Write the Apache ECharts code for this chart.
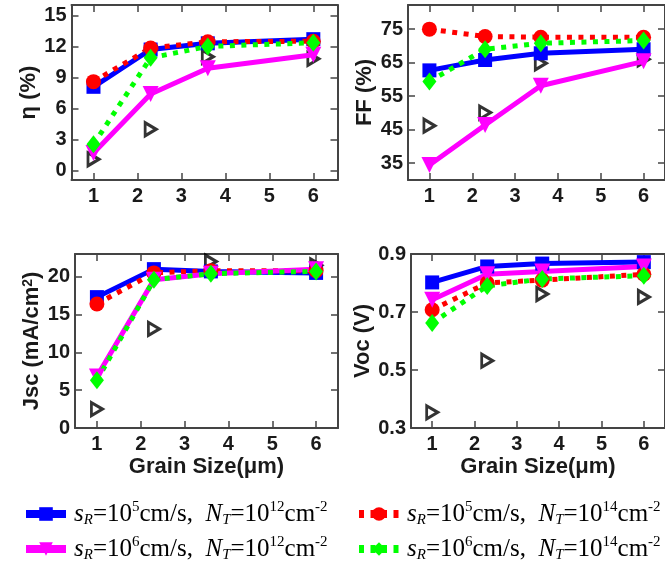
<!DOCTYPE html>
<html><head><meta charset="utf-8">
<script src="https://cdn.jsdelivr.net/npm/echarts@6/dist/echarts.min.js"></script>
<style>html,body{margin:0;padding:0;background:#fff}#c{width:665px;height:571px}</style>
</head><body><div id="c"></div>
<script>
// ---- data ----
const grainSize = [1, 2.3, 3.6, 6];
const xTicks = [1, 2, 3, 4, 5, 6];
const seriesNames = ['sR=1e5,NT=1e12', 'sR=1e5,NT=1e14', 'sR=1e6,NT=1e12', 'sR=1e6,NT=1e14'];
const srExp = ['5', '5', '6', '6'];
const ntExp = ['12', '14', '12', '14'];

const etaTicks = [0, 3, 6, 9, 12, 15];
const etaA = [8.1, 11.7, 12.3, 12.7];
const etaB = [8.6, 11.85, 12.45, 12.5];
const etaC = [1.7, 7.4, 9.9, 11.2];
const etaD = [2.55, 10.9, 12.0, 12.35];
const etaRef = [1.1, 4.0, 11.0, 10.8];

const ffTicks = [35, 45, 55, 65, 75];
const ffA = [62.7, 65.8, 67.8, 69.0];
const ffB = [75.0, 72.8, 72.6, 72.6];
const ffC = [34.5, 46.4, 58.1, 65.4];
const ffD = [59.4, 69.0, 70.8, 71.6];
const ffRef = [46.2, 50.1, 64.8, 66.0];

const jscTicks = [0, 5, 10, 15, 20];
const jscA = [17.3, 21.0, 20.7, 20.5];
const jscB = [16.4, 20.5, 20.8, 20.8];
const jscC = [6.8, 19.6, 20.4, 21.0];
const jscD = [6.3, 19.6, 20.4, 20.7];
const jscRef = [2.5, 13.1, 22.0, 21.5];

const vocTicks = [0.3, 0.5, 0.7, 0.9];
const vocA = [0.802, 0.857, 0.867, 0.872];
const vocB = [0.708, 0.80, 0.81, 0.83];
const vocC = [0.742, 0.83, 0.84, 0.857];
const vocD = [0.662, 0.79, 0.814, 0.825];
const vocRef = [0.354, 0.532, 0.762, 0.752];

// ---- layout / styles ----
const panels = [
  {grid:{left:71.5, top:5, width:266, height:175}, xMin:0.5, xMax:6.55, yMin:-0.9, yMax:16, yTicks:etaTicks,
   yName:'η (%)', xName:'', data:[etaA, etaB, etaC, etaD, etaRef]},
  {grid:{left:408, top:5, width:264, height:175}, xMin:0.5, xMax:6.5, yMin:30, yMax:82.2, yTicks:ffTicks,
   yName:'FF (%)', xName:'', data:[ffA, ffB, ffC, ffD, ffRef]},
  {grid:{left:75, top:254, width:263, height:174}, xMin:0.5, xMax:6.5, yMin:0, yMax:23, yTicks:jscTicks,
   yName:'Jsc (mA/cm{sup|2})', xName:'Grain Size(μm)', data:[jscA, jscB, jscC, jscD, jscRef]},
  {grid:{left:411, top:254, width:262, height:174}, xMin:0.5, xMax:6.5, yMin:0.3, yMax:0.9, yTicks:vocTicks,
   yName:'Voc (V)', xName:'Grain Size(μm)', data:[vocA, vocB, vocC, vocD, vocRef]}
];

const frameColor = '#444';
const sans = 'Liberation Sans';
const labelStyle = {fontSize:20, fontWeight:'bold', fontFamily:sans, color:'#1a1a1a'};
const nameStyle = {fontSize:22, fontWeight:'bold', fontFamily:sans, color:'#1a1a1a',
  rich:{sup:{fontSize:14, fontWeight:'bold', fontFamily:sans, color:'#1a1a1a', verticalAlign:'top', lineHeight:14}}};

const styles = [
  {color:'#0000ff', symbol:'rect', size:14, line:'solid'},
  {color:'#ff0000', symbol:'circle', size:15, line:[5, 6.5]},
  {color:'#ff00ff', symbol:'triangle', size:16, rotate:180, line:'solid'},
  {color:'#00ff00', symbol:'diamond', size:[14, 18], line:[5, 6.5]}
];

const xAxis = [], yAxis = [], grid = [], series = [];
panels.forEach((p, gi) => {
  grid.push(Object.assign({containLabel:false}, p.grid));
  const base = (pos) => ({
    type:'value', gridIndex:gi, position:pos,
    axisLine:{show:true, onZero:false, lineStyle:{color:frameColor, width:2}},
    splitLine:{show:false},
  });
  const bx = base('bottom');
  Object.assign(bx, {min:p.xMin, max:p.xMax,
    axisTick:{show:true, inside:true, length:7, customValues:xTicks, lineStyle:{color:frameColor, width:1.5}},
    axisLabel:Object.assign({show:true, margin:6, customValues:xTicks}, labelStyle),
    name:p.xName, nameLocation:'middle', nameGap:28, nameTextStyle:nameStyle});
  const tx = base('top');
  Object.assign(tx, {min:p.xMin, max:p.xMax,
    axisTick:{show:true, inside:true, length:7, customValues:xTicks, lineStyle:{color:frameColor, width:1.5}},
    axisLabel:{show:false}});
  xAxis.push(bx, tx);
  const ly = base('left');
  Object.assign(ly, {min:p.yMin, max:p.yMax,
    axisTick:{show:true, inside:true, length:7, customValues:p.yTicks, lineStyle:{color:frameColor, width:1.5}},
    axisLabel:Object.assign({show:true, margin:5, customValues:p.yTicks}, labelStyle),
    name:p.yName, nameLocation:'middle', nameGap:32, nameTextStyle:nameStyle});
  const ry = base('right');
  Object.assign(ry, {min:p.yMin, max:p.yMax,
    axisTick:{show:true, inside:true, length:7, customValues:p.yTicks, lineStyle:{color:frameColor, width:1.5}},
    axisLabel:{show:false}});
  yAxis.push(ly, ry);

  styles.forEach((s, si) => {
    series.push({
      type:'line', name:seriesNames[si], xAxisIndex:gi*2, yAxisIndex:gi*2,
      data:grainSize.map((x, k) => [x, p.data[si][k]]),
      symbol:s.symbol, symbolSize:s.size, symbolRotate:s.rotate || 0,
      lineStyle:{color:s.color, width:5, type:s.line},
      itemStyle:{color:s.color},
      showSymbol:true, animation:false, clip:false
    });
  });
  series.push({
    type:'scatter', name:'ref', xAxisIndex:gi*2, yAxisIndex:gi*2,
    data:grainSize.map((x, k) => [x, p.data[4][k]]),
    symbol:'path://M0,0L10,6L0,12Z', symbolSize:[11, 13], symbolKeepAspect:false,
    itemStyle:{color:'rgba(0,0,0,0)', borderColor:'#000', borderWidth:3},
    animation:false
  });
});

const serif = 'Liberation Serif';
const FS = 25;
const rich = {
  i:{fontFamily:serif, fontStyle:'italic', fontSize:FS, lineHeight:28, color:'#000'},
  i0:{fontFamily:serif, fontStyle:'italic', fontSize:FS, lineHeight:28, color:'#000', padding:[0,0,0,3]},
  n:{fontFamily:serif, fontSize:FS, lineHeight:28, color:'#000'},
  sub:{fontFamily:serif, fontStyle:'italic', fontSize:15, lineHeight:14, verticalAlign:'bottom', color:'#000'},
  sup:{fontFamily:serif, fontSize:15, lineHeight:18, verticalAlign:'top', color:'#000'}
};
const fmt = name => {
  const k = seriesNames.indexOf(name);
  return '{i0|s}{sub|R}{n|=10}{sup|' + srExp[k] + '}{n|cm/s,  }{i|N}{sub|T}{n|=10}{sup|' + ntExp[k] + '}{n|cm}{sup|-2}';
};
const legendItem = k => ({name:seriesNames[k], lineStyle:{width:8}});
const legendBase = {orient:'vertical', itemGap:7, itemWidth:40, itemHeight:17, padding:0, formatter:fmt,
  textStyle:{fontFamily:serif, fontSize:FS, color:'#000', rich:rich}, selectedMode:false};

const option = {
  backgroundColor:'#fff',
  animation:false,
  grid, xAxis, yAxis, series,
  legend:[
    Object.assign({data:[legendItem(0), legendItem(2)], left:22, top:500}, legendBase),
    Object.assign({data:[legendItem(1), legendItem(3)], left:355, top:500}, legendBase)
  ]
};
const chart = echarts.init(document.getElementById('c'), null, {renderer:'canvas'});
chart.setOption(option);
</script></body></html>
